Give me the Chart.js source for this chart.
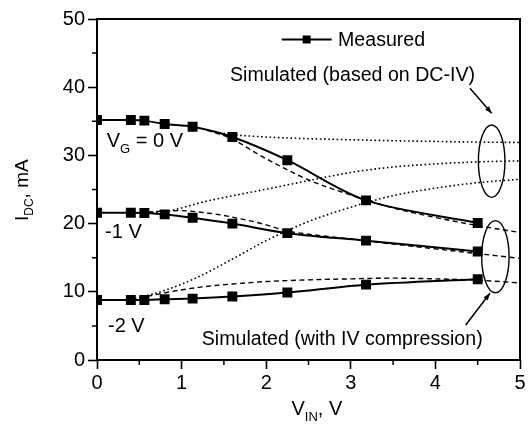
<!DOCTYPE html>
<html><head><meta charset="utf-8">
<script src="https://cdn.jsdelivr.net/npm/chart.js@4"></script>
<style>html,body{margin:0;padding:0;background:#fff}#wrap{width:532px;height:426px}</style>
</head><body><div id="wrap"><canvas id="c" width="532" height="426"></canvas></div>
<script>
// ---------- data ----------
const xMeasured   = [0, 0.4, 0.56, 0.8, 1.13, 1.6, 2.25, 3.18, 4.5];
const measuredVG0 = [35.2, 35.2, 35.1, 34.6, 34.2, 32.7, 29.3, 23.4, 20.1];
const measuredVG1 = [21.6, 21.6, 21.55, 21.35, 20.85, 20.0, 18.6, 17.5, 15.9];
const measuredVG2 = [8.8, 8.8, 8.8, 8.9, 9.0, 9.3, 9.9, 11.05, 11.85];

const xDcivVG0 = [1.3, 1.5, 2.0, 2.5, 3.0, 3.5, 4.0, 4.5, 5.0];
const dcivVG0  = [33.7, 33.2, 32.7, 32.45, 32.3, 32.15, 32.05, 31.95, 31.9];
const xDcivVG1 = [0.6, 0.8, 1.0, 1.2, 1.45, 1.9, 2.3, 2.7, 3.0, 3.5, 4.0, 4.5, 5.0];
const dcivVG1  = [21.6, 21.75, 22.3, 23.0, 23.7, 24.8, 25.8, 26.8, 27.5, 28.3, 28.75, 29.05, 29.2];
const xDcivVG2 = [0.4, 0.8, 1.2, 1.6, 2.0, 2.5, 3.0, 3.5, 4.0, 4.5, 5.0];
const dcivVG2  = [8.85, 10.2, 12.2, 14.8, 17.5, 20.3, 22.4, 24.1, 25.2, 26.0, 26.5];

const xComprVG0 = [1.3, 1.6, 1.9, 2.2, 2.5, 3.0, 3.5, 4.0, 4.5, 5.0];
const comprVG0  = [33.7, 32.4, 30.2, 28.2, 26.4, 24.2, 22.3, 20.9, 19.7, 18.7];
const xComprVG1 = [0.4, 0.6, 0.8, 1.0, 1.2, 1.45, 1.7, 1.93, 2.26, 2.6, 3.0, 3.5, 4.0, 4.5, 5.0];
const comprVG1  = [21.6, 21.7, 21.85, 21.9, 21.7, 21.3, 20.7, 20.05, 18.9, 18.3, 17.75, 17.0, 16.3, 15.6, 14.9];
const xComprVG2 = [0.4, 0.8, 1.2, 1.6, 2.0, 2.5, 3.0, 3.5, 4.0, 4.5, 5.0];
const comprVG2  = [8.8, 9.85, 10.65, 11.15, 11.5, 11.75, 11.9, 12.0, 11.9, 11.7, 11.3];

const xTicks = [0, 1, 2, 3, 4, 5];
const yTicks = [0, 10, 20, 30, 40, 50];
const xMinorTicks = [0.5, 1.5, 2.5, 3.5, 4.5];
const yMinorTicks = [5, 15, 25, 35, 45];

const seriesLabels = ['Measured', 'Simulated (based on DC-IV)', 'Simulated (with IV compression)'];
const curveLabels = ['V_G = 0 V', '-1 V', '-2 V'];

// ---------- helpers ----------
const pts = (xs, ys) => xs.map((v, i) => ({x: v, y: ys[i]}));
const FONT = "'Liberation Sans', Arial, Helvetica, sans-serif";

function measuredSet(xs, ys) {
  return {label: seriesLabels[0], data: pts(xs, ys), showLine: true, borderColor: '#000',
    backgroundColor: '#000', borderWidth: 2, pointStyle: 'rect', pointRadius: 5.6,
    pointHoverRadius: 5.6, tension: 0.3, order: 0};
}
function simSet(xs, ys, dash, label) {
  return {label: label, data: pts(xs, ys), showLine: true, borderColor: '#000',
    borderWidth: dash[0] < 2 ? 1.6 : 1.4, borderDash: dash, pointRadius: 0, pointHoverRadius: 0,
    cubicInterpolationMode: 'monotone', order: 1};
}

// annotation layout (data coordinates)
const notes = {
  legend: {x0: 2.183, x1: 2.774, y: 47.0, tx: 2.849},
  simDC: {x: 1.572, y: 40.84},
  simComp: {x: 1.238, y: 2.2},
  vg0: {x: 0.115, y: 31.28},
  vg1: {x: 0.095, y: 17.89},
  vg2: {x: 0.13, y: 4.15},
  ell1: {cx: 4.665, cy: 29.15, rx: 0.157, ry: 5.31},
  ell2: {cx: 4.709, cy: 15.15, rx: 0.162, ry: 5.28},
  arr1: {x0: 4.409, y0: 39.84, x1: 4.665, y1: 36.17},
  arr2: {x0: 4.358, y0: 5.13, x1: 4.645, y1: 9.78}
};

function drawRich(ctx, parts, x, y, size, subSize, subDrop) {
  let cx = x;
  for (const p of parts) {
    if (p.sub) {
      ctx.font = subSize + 'px ' + FONT;
      ctx.fillText(p.t, cx, y + subDrop);
    } else {
      ctx.font = size + 'px ' + FONT;
      ctx.fillText(p.t, cx, y);
    }
    cx += ctx.measureText(p.t).width;
  }
}

function arrow(ctx, x0, y0, x1, y1) {
  ctx.beginPath(); ctx.moveTo(x0, y0); ctx.lineTo(x1, y1); ctx.stroke();
  const ang = Math.atan2(y1 - y0, x1 - x0), L = 7, W = 2.6;
  ctx.beginPath();
  ctx.moveTo(x1, y1);
  ctx.lineTo(x1 - L * Math.cos(ang) + W * Math.sin(ang), y1 - L * Math.sin(ang) - W * Math.cos(ang));
  ctx.lineTo(x1 - L * Math.cos(ang) - W * Math.sin(ang), y1 - L * Math.sin(ang) + W * Math.cos(ang));
  ctx.closePath(); ctx.fill();
}

const decor = {
  id: 'decor',
  afterDraw(chart) {
    const {ctx, chartArea: a, scales: {x, y}} = chart;
    const X = v => x.getPixelForValue(v), Y = v => y.getPixelForValue(v);
    ctx.save();
    ctx.strokeStyle = '#000'; ctx.fillStyle = '#000';
    // frame
    ctx.lineWidth = 2;
    ctx.strokeRect(a.left, a.top, a.right - a.left, a.bottom - a.top);
    // minor ticks
    ctx.lineWidth = 1.5;
    ctx.beginPath();
    xMinorTicks.forEach(v => { ctx.moveTo(X(v), a.bottom); ctx.lineTo(X(v), a.bottom + 5); });
    yMinorTicks.forEach(v => { ctx.moveTo(a.left, Y(v)); ctx.lineTo(a.left - 5, Y(v)); });
    ctx.stroke();

    // legend
    const n = notes.legend;
    ctx.lineWidth = 2;
    ctx.beginPath(); ctx.moveTo(X(n.x0), Y(n.y)); ctx.lineTo(X(n.x1), Y(n.y)); ctx.stroke();
    const mx = (X(n.x0) + X(n.x1)) / 2;
    ctx.fillRect(mx - 4, Y(n.y) - 4, 8, 8);
    ctx.textBaseline = 'middle'; ctx.textAlign = 'left';
    ctx.font = '19.6px ' + FONT;
    ctx.fillText(seriesLabels[0], X(n.tx), Y(n.y) + 1);

    ctx.textBaseline = 'alphabetic';
    ctx.font = '19.6px ' + FONT;
    ctx.fillText(seriesLabels[1], X(notes.simDC.x), Y(notes.simDC.y));
    ctx.fillText(seriesLabels[2], X(notes.simComp.x), Y(notes.simComp.y));

    drawRich(ctx, [{t: 'V'}, {t: 'G', sub: true}, {t: ' = 0 V'}], X(notes.vg0.x), Y(notes.vg0.y), 20, 13, 6);
    ctx.font = '20px ' + FONT;
    ctx.fillText(curveLabels[1], X(notes.vg1.x), Y(notes.vg1.y));
    ctx.fillText(curveLabels[2], X(notes.vg2.x), Y(notes.vg2.y));

    // ellipses
    ctx.lineWidth = 1.4;
    [notes.ell1, notes.ell2].forEach(e => {
      ctx.beginPath();
      ctx.ellipse(X(e.cx), Y(e.cy), Math.abs(X(e.cx + e.rx) - X(e.cx)), Math.abs(Y(e.cy + e.ry) - Y(e.cy)), 0, 0, Math.PI * 2);
      ctx.stroke();
    });
    // arrows
    ctx.lineWidth = 1.5;
    [notes.arr1, notes.arr2].forEach(r => arrow(ctx, X(r.x0), Y(r.y0), X(r.x1), Y(r.y1)));

    // axis titles
    drawRich(ctx, [{t: 'V'}, {t: 'IN', sub: true}, {t: ', V'}], 291.5, 415, 20, 13, 6);
    ctx.save();
    ctx.translate(28, 221);
    ctx.rotate(-Math.PI / 2);
    drawRich(ctx, [{t: 'I'}, {t: 'DC', sub: true}, {t: ', mA'}], 0, 0, 19, 12, 5);
    ctx.restore();
    ctx.restore();
  }
};

Chart.defaults.font.family = FONT;
Chart.defaults.color = '#000';

new Chart(document.getElementById('c'), {
  type: 'scatter',
  data: {
    datasets: [
      measuredSet(xMeasured, measuredVG0),
      measuredSet(xMeasured, measuredVG1),
      measuredSet(xMeasured, measuredVG2),
      simSet(xDcivVG0, dcivVG0, [1.6, 2.6], seriesLabels[1]),
      simSet(xDcivVG1, dcivVG1, [1.6, 2.6], seriesLabels[1]),
      simSet(xDcivVG2, dcivVG2, [1.6, 2.6], seriesLabels[1]),
      simSet(xComprVG0, comprVG0, [5, 3.5], seriesLabels[2]),
      simSet(xComprVG1, comprVG1, [5, 3.5], seriesLabels[2]),
      simSet(xComprVG2, comprVG2, [5, 3.5], seriesLabels[2])
    ]
  },
  options: {
    responsive: false, animation: false, devicePixelRatio: 1,
    layout: {padding: {top: 19, right: 12, left: 0, bottom: 0}},
    plugins: {legend: {display: false}, tooltip: {enabled: false}},
    scales: {
      x: {
        type: 'linear', min: 0, max: 5,
        afterBuildTicks: s => { s.ticks = xTicks.map(v => ({value: v})); },
        afterFit: s => { s.height = 66; },
        ticks: {font: {size: 20}, padding: 2, color: '#000', maxRotation: 0},
        grid: {drawOnChartArea: false, tickLength: 9, tickWidth: 1.6, tickColor: '#000'},
        border: {display: false},
        title: {display: false}
      },
      y: {
        type: 'linear', min: 0, max: 50,
        afterBuildTicks: s => { s.ticks = yTicks.map(v => ({value: v})); },
        afterFit: s => { s.width = 97; },
        ticks: {font: {size: 20}, padding: 3, color: '#000'},
        grid: {drawOnChartArea: false, tickLength: 9, tickWidth: 1.6, tickColor: '#000'},
        border: {display: false},
        title: {display: false}
      }
    }
  },
  plugins: [decor]
});
</script>
</body></html>
